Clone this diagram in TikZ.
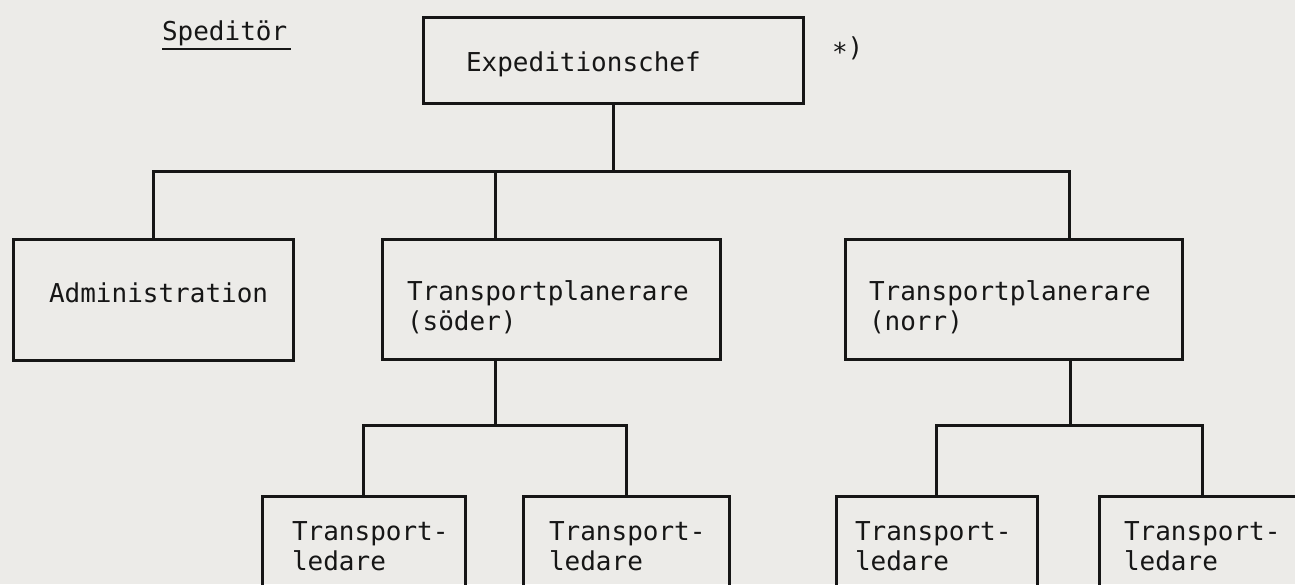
\documentclass[tikz,border=0pt]{standalone}
\usepackage{fontspec}
\setmonofont{DejaVu Sans Mono}
\usetikzlibrary{calc}
\definecolor{paper}{RGB}{236,235,232}
\definecolor{ink}{RGB}{22,22,22}
% two text lines, baseline of the whole box = baseline of the first line
\newcommand{\twolines}[2]{\vtop{\hbox{#1}\hbox{#2}}}
\begin{document}
\begin{tikzpicture}[x=1pt,y=-1pt,
  box/.style={draw=ink, line width=3pt, rectangle, inner sep=0pt, outer sep=0pt},
  lbl/.style={inner sep=0pt, outer sep=0pt, text=ink, anchor=base west,
    font=\ttfamily\fontsize{26}{30}\selectfont},
  wire/.style={draw=ink, line width=3pt, line join=miter, line cap=rect}]
\useasboundingbox (0,0) rectangle (1295,584);
\fill[paper] (0,0) rectangle (1295,584);
\clip (0,0) rectangle (1295,584);

% boxes
\node[box, minimum width=380, minimum height=86]  (exp) at (613,60) {};
\node[box, minimum width=280, minimum height=121] (adm) at (153,299.5) {};
\node[box, minimum width=338, minimum height=120] (sod) at (551,299) {};
\node[box, minimum width=337, minimum height=120] (nor) at (1013.5,299) {};
\node[box, minimum width=203, minimum height=150] (t1) at (363.5,571) {};
\node[box, minimum width=206, minimum height=150] (t2) at (626,571) {};
\node[box, minimum width=201, minimum height=150] (t3) at (936.5,571) {};
\node[box, minimum width=206, minimum height=150] (t4) at (1202,571) {};

% texts
\node[lbl] (sped) at (162,40) {Speditör};
\draw[ink, line width=2.2pt] ([yshift=-9pt]sped.base west) -- ([yshift=-9pt,xshift=4pt]sped.base east);
\node[lbl] (expT) at (466,71) {Expeditionschef};
\node[lbl] (note) at (832,56) {\raisebox{-5pt}{*})};
\node[lbl] (admT) at (49,302) {Administration};
\node[lbl] (sodT) at (407,300) {\twolines{Transportplanerare}{(söder)}};
\node[lbl] (norT) at (869,300) {\twolines{Transportplanerare}{(norr)}};
\node[lbl] (t1T) at (292,540) {\twolines{Transport-}{ledare}};
\node[lbl] (t2T) at (549,540) {\twolines{Transport-}{ledare}};
\node[lbl] (t3T) at (855,540) {\twolines{Transport-}{ledare}};
\node[lbl] (t4T) at (1124,540) {\twolines{Transport-}{ledare}};

% connector points
\coordinate (busA) at (0,171);
\coordinate (busB) at (0,425);
\coordinate (sodIn) at ($(sod.north west)+(113,0)$);
\coordinate (sodOut) at ($(sod.south west)+(113,0)$);
\coordinate (norIn) at ($(nor.north west)+(224,0)$);
\coordinate (norOut) at ($(nor.south west)+(225,0)$);

% top level
\draw[wire] (exp.south) -- (exp.south |- busA);
\draw[wire] (adm.north) -- (adm.north |- busA) -- (norIn |- busA) -- (norIn);
\draw[wire] (sodIn |- busA) -- (sodIn);

% south branch
\draw[wire] (sodOut) -- (sodOut |- busB);
\draw[wire] (t1.north) -- (t1.north |- busB) -- (t2.north |- busB) -- (t2.north);

% north branch
\draw[wire] (norOut) -- (norOut |- busB);
\draw[wire] (t3.north) -- (t3.north |- busB) -- (t4.north |- busB) -- (t4.north);
\end{tikzpicture}
\end{document}
